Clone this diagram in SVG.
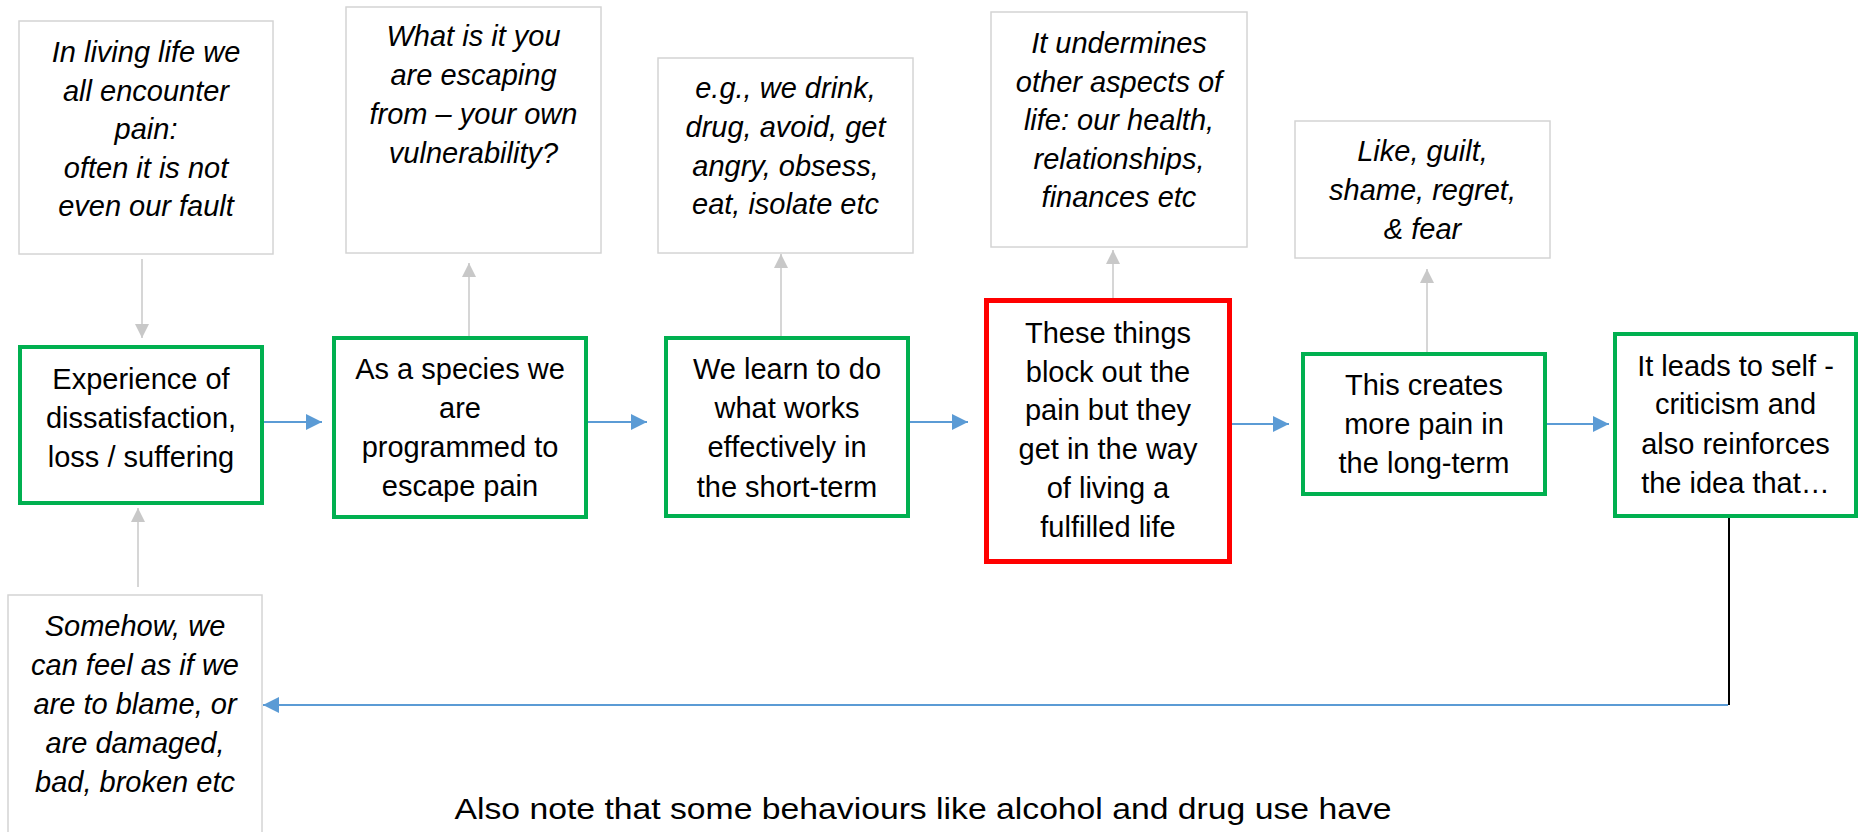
<svg xmlns="http://www.w3.org/2000/svg" width="1866" height="832" viewBox="0 0 1866 832">
<style>
text{font-family:"Liberation Sans",Arial,sans-serif;font-size:29px;fill:#000;text-anchor:middle}
.it{font-style:italic}
.note{fill:#fff;stroke:#d4d4d4;stroke-width:1.5}
.g{fill:#fff;stroke:#00b050;stroke-width:4}
.r{fill:#fff;stroke:#ff0000;stroke-width:5}
.ga{fill:none;stroke:#c8c8c8;stroke-width:1.5;marker-end:url(#mg)}
.gl{fill:none;stroke:#c8c8c8;stroke-width:1.5}
.ba{fill:none;stroke:#5b9bd5;stroke-width:2;marker-end:url(#mb)}
</style>
<defs>
<marker id="mb" markerUnits="userSpaceOnUse" markerWidth="16" markerHeight="16" refX="16" refY="8" orient="auto"><path d="M0,0 L16,8 L0,16 z" fill="#5b9bd5"/></marker>
<marker id="mg" markerUnits="userSpaceOnUse" markerWidth="14" markerHeight="14" refX="14" refY="7" orient="auto"><path d="M0,0 L14,7 L0,14 z" fill="#c8c8c8"/></marker>
</defs>
<rect width="1866" height="832" fill="#fff"/>

<g id="connectors">
<path class="ga" d="M142,259 L142,338"/>
<path class="ga" d="M469,338 L469,263"/>
<path class="ga" d="M781,338 L781,254"/>
<path class="ga" d="M1113,300 L1113,250"/>
<path class="ga" d="M1427,354 L1427,269"/>
<path class="ga" d="M138,587 L138,508"/>
<path class="ba" d="M264,422 L322,422"/>
<path class="ba" d="M588,422 L647,422"/>
<path class="ba" d="M910,422 L968,422"/>
<path class="ba" d="M1232,424 L1289,424"/>
<path class="ba" d="M1547,424 L1609,424"/>
<path d="M1729,518 L1729,705" fill="none" stroke="#000" stroke-width="2"/>
<path class="ba" d="M1728,705 L263,705"/>
</g>

<g id="noteA">
<rect class="note" x="19" y="21" width="254" height="233"/>
<text class="it" x="146" y="62">In living life we</text>
<text class="it" x="146" y="100.5">all encounter</text>
<text class="it" x="146" y="139">pain:</text>
<text class="it" x="146" y="177.5">often it is not</text>
<text class="it" x="146" y="216">even our fault</text>
</g>
<g id="noteB">
<rect class="note" x="346" y="7" width="255" height="246"/>
<text class="it" x="473.5" y="46">What is it you</text>
<text class="it" x="473.5" y="85">are escaping</text>
<text class="it" x="473.5" y="124">from – your own</text>
<text class="it" x="473.5" y="163">vulnerability?</text>
</g>
<g id="noteC">
<rect class="note" x="658" y="58" width="255" height="195"/>
<text class="it" x="785.5" y="98">e.g., we drink,</text>
<text class="it" x="785.5" y="137">drug, avoid, get</text>
<text class="it" x="785.5" y="176">angry, obsess,</text>
<text class="it" x="785.5" y="214">eat, isolate etc</text>
</g>
<g id="noteD">
<rect class="note" x="991" y="12" width="256" height="235"/>
<text class="it" x="1119" y="53">It undermines</text>
<text class="it" x="1119" y="92">other aspects of</text>
<text class="it" x="1119" y="130">life: our health,</text>
<text class="it" x="1119" y="169">relationships,</text>
<text class="it" x="1119" y="207">finances etc</text>
</g>
<g id="noteE">
<rect class="note" x="1295" y="121" width="255" height="137"/>
<text class="it" x="1422.5" y="161">Like, guilt,</text>
<text class="it" x="1422.5" y="200">shame, regret,</text>
<text class="it" x="1422.5" y="239">&amp; fear</text>
</g>
<g id="noteF">
<rect class="note" x="8" y="595" width="254" height="260"/>
<text class="it" x="135" y="636">Somehow, we</text>
<text class="it" x="135" y="675">can feel as if we</text>
<text class="it" x="135" y="714">are to blame, or</text>
<text class="it" x="135" y="753">are damaged,</text>
<text class="it" x="135" y="792">bad, broken etc</text>
</g>

<g id="node1">
<rect class="g" x="20" y="347" width="242" height="156"/>
<text x="141" y="389">Experience of</text>
<text x="141" y="428">dissatisfaction,</text>
<text x="141" y="467">loss / suffering</text>
</g>
<g id="node2">
<rect class="g" x="334" y="338" width="252" height="179"/>
<text x="460" y="379">As a species we</text>
<text x="460" y="418">are</text>
<text x="460" y="457">programmed to</text>
<text x="460" y="496">escape pain</text>
</g>
<g id="node3">
<rect class="g" x="666" y="338" width="242" height="178"/>
<text x="787" y="379">We learn to do</text>
<text x="787" y="418">what works</text>
<text x="787" y="457">effectively in</text>
<text x="787" y="497">the short-term</text>
</g>
<g id="node4">
<rect class="r" x="986.5" y="300.5" width="243" height="261"/>
<text x="1108" y="343">These things</text>
<text x="1108" y="382">block out the</text>
<text x="1108" y="420">pain but they</text>
<text x="1108" y="459">get in the way</text>
<text x="1108" y="498">of living a</text>
<text x="1108" y="537">fulfilled life</text>
</g>
<g id="node5">
<rect class="g" x="1303" y="354" width="242" height="140"/>
<text x="1424" y="395">This creates</text>
<text x="1424" y="434">more pain in</text>
<text x="1424" y="473">the long-term</text>
</g>
<g id="node6">
<rect class="g" x="1615" y="334" width="241" height="182"/>
<text x="1735.5" y="376">It leads to self -</text>
<text x="1735.5" y="414">criticism and</text>
<text x="1735.5" y="454">also reinforces</text>
<text x="1735.5" y="493">the idea that…</text>
</g>

<text x="923" y="819" style="font-size:30px" textLength="937" lengthAdjust="spacingAndGlyphs">Also note that some behaviours like alcohol and drug use have</text>
</svg>
